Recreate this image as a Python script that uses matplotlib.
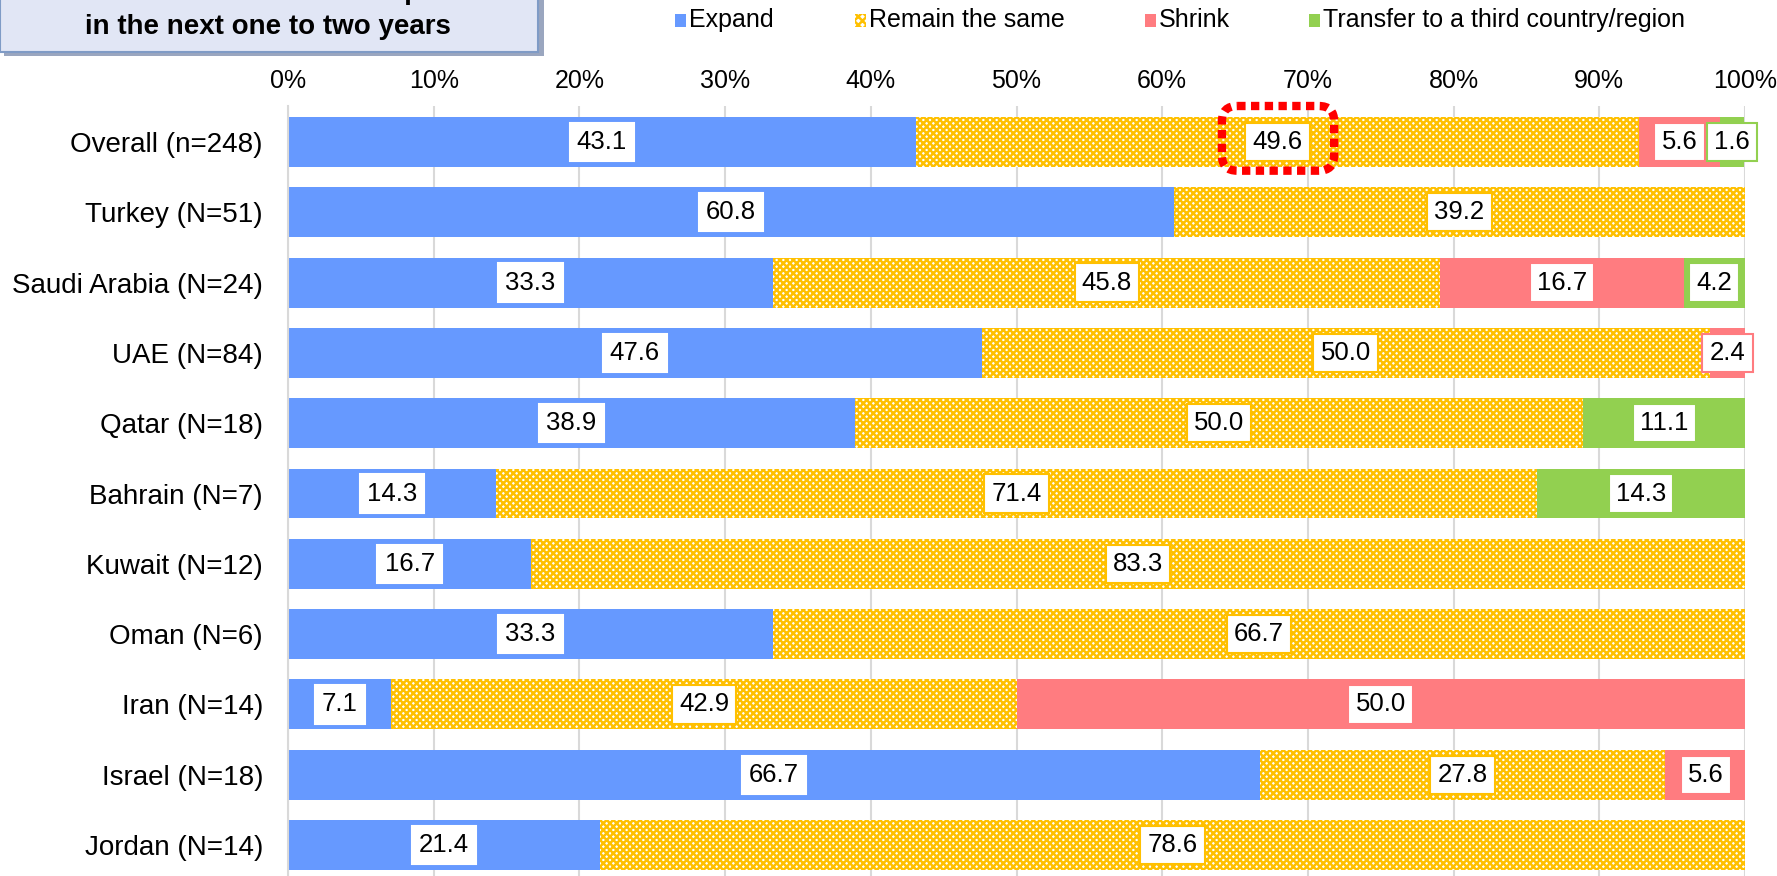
import matplotlib
matplotlib.use("Agg")
import matplotlib.pyplot as plt
from matplotlib.patches import Rectangle, FancyBboxPatch
import numpy as np

plt.rcParams['font.family'] = ['Liberation Sans', 'DejaVu Sans']
plt.rcParams['hatch.linewidth'] = 1.8

categories = ["Overall (n=248)", "Turkey (N=51)", "Saudi Arabia (N=24)", "UAE (N=84)",
              "Qatar (N=18)", "Bahrain (N=7)", "Kuwait (N=12)", "Oman (N=6)",
              "Iran (N=14)", "Israel (N=18)", "Jordan (N=14)"]
series_names = ["Expand", "Remain the same", "Shrink", "Transfer to a third country/region"]
expand   = [43.1, 60.8, 33.3, 47.6, 38.9, 14.3, 16.7, 33.3, 7.1, 66.7, 21.4]
remain   = [49.6, 39.2, 45.8, 50.0, 50.0, 71.4, 83.3, 66.7, 42.9, 27.8, 78.6]
shrink   = [5.6, 0.0, 16.7, 2.4, 0.0, 0.0, 0.0, 0.0, 50.0, 5.6, 0.0]
transfer = [1.6, 0.0, 4.2, 0.0, 11.1, 14.3, 0.0, 0.0, 0.0, 0.0, 0.0]
xticks = [0, 10, 20, 30, 40, 50, 60, 70, 80, 90, 100]
xticklabels = ["0%", "10%", "20%", "30%", "40%", "50%", "60%", "70%", "80%", "90%", "100%"]
title_lines = ["Future direction of business operations", "in the next one to two years"]

c_expand = "#6699FF"
c_remain = "#FFC000"
c_shrink = "#FF7C80"
c_transfer = "#92D050"

W, H = 1777, 876
fig = plt.figure(figsize=(W / 100, H / 100), dpi=100)
ax = fig.add_axes([288 / W, 0, 1457 / W, 1 - 106 / H])

y = np.arange(len(categories))
bh = 0.71

series = [expand, remain, shrink, transfer]
colors = [c_expand, c_remain, c_shrink, c_transfer]
left = np.zeros(len(categories))
for k, (vals, col) in enumerate(zip(series, colors)):
    vals = np.array(vals)
    if k == 1:
        ax.barh(y, vals, left=left, height=bh, facecolor="white", edgecolor=col,
                hatch="xxxxx", linewidth=0, zorder=2)
    else:
        ax.barh(y, vals, left=left, height=bh, color=col, linewidth=0, zorder=2)
    for i, v in enumerate(vals):
        if v > 0:
            edge = "white" if k == 0 else col
            ax.text(left[i] + v / 2, y[i], f"{v:.1f}", ha="center", va="center",
                    fontsize=18.5, color="black", zorder=5,
                    bbox=dict(boxstyle="square,pad=0.28", facecolor="white",
                              edgecolor=edge, linewidth=1.5))
    left += vals

ax.set_xlim(0, 100)
ax.set_ylim(10.44, -0.512)
ax.set_yticks(y)
ax.set_yticklabels(categories, fontsize=20)
ax.xaxis.tick_top()
ax.set_xticks(xticks)
ax.set_xticklabels(xticklabels, fontsize=18)
ax.tick_params(axis="both", length=0)
ax.tick_params(axis="x", pad=9)
ax.tick_params(axis="y", pad=18)
ax.grid(axis="x", color="#D9D9D9", linewidth=1.5, zorder=0)
ax.set_axisbelow(True)
for s in ["top", "right", "bottom"]:
    ax.spines[s].set_visible(False)
ax.spines["left"].set_color("#D9D9D9")
ax.spines["left"].set_linewidth(1.5)

# Red dotted highlight around Overall "Remain the same"
hl = FancyBboxPatch((64.1, -0.512), 7.7, 0.92, boxstyle="round,pad=0,rounding_size=1.05",
                    mutation_aspect=0.207, fill=False, edgecolor="#FF0000",
                    linewidth=6, linestyle=(0, (1.0, 0.65)), clip_on=False, zorder=6)
ax.add_patch(hl)

# Title box (clipped at top of figure)
fig.patches.append(Rectangle((4 / W, 1 - 56 / H), 540 / W, 80 / H, transform=fig.transFigure,
                             facecolor="#9AA6BF", edgecolor="none", zorder=1))
fig.patches.append(Rectangle((0, 1 - 52 / H), 538 / W, 80 / H, transform=fig.transFigure,
                             facecolor="#E1E6F5", edgecolor="#7F9BC6", linewidth=1.5, zorder=2))
fig.text(268 / W, 1 + 1 / H, title_lines[0], ha="center", va="baseline", fontsize=20,
         fontweight="bold", zorder=3)
fig.text(268 / W, 1 - 27 / H, title_lines[1], ha="center", va="center", fontsize=20,
         fontweight="bold", zorder=3)

# Legend
leg_sq = [675, 855, 1145, 1309]
for name, col, x0, k in zip(series_names, colors, leg_sq, range(4)):
    if k == 1:
        r = Rectangle((x0 / W, 1 - 27 / H), 11 / W, 13 / H, transform=fig.transFigure,
                      facecolor="white", edgecolor=col, hatch="xxxx", linewidth=0)
    else:
        r = Rectangle((x0 / W, 1 - 27 / H), 11 / W, 13 / H, transform=fig.transFigure,
                      facecolor=col, edgecolor="none")
    fig.patches.append(r)
    fig.text((x0 + 14) / W, 1 - 20 / H, name, ha="left", va="center", fontsize=18)

fig.savefig("out.png", dpi=100)
